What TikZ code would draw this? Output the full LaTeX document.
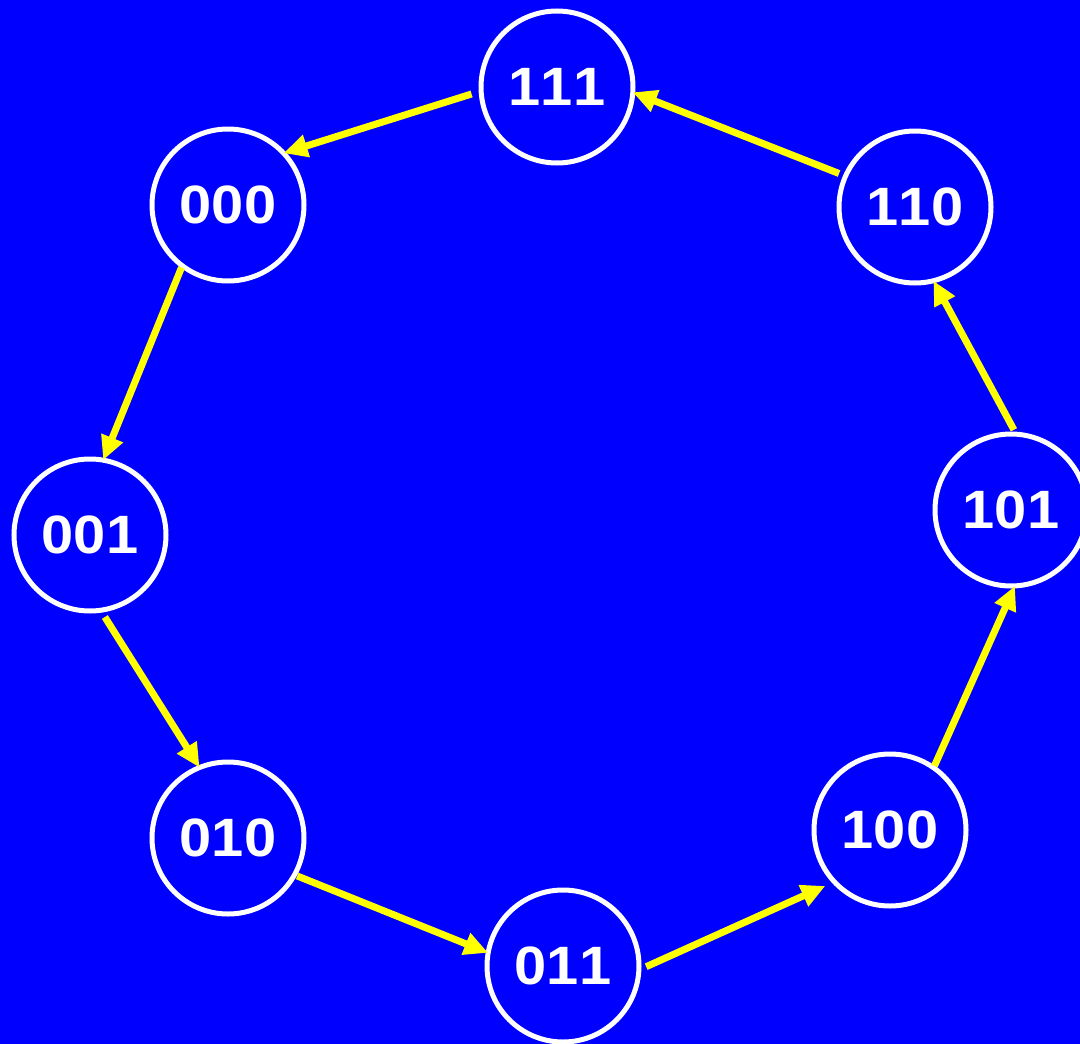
\documentclass[tikz,border=0pt]{standalone}
\usepackage{fontspec}
\setmainfont[Kerning=Off]{Liberation Sans}
\usetikzlibrary{arrows.meta}
\definecolor{bg}{RGB}{0,0,255}
\definecolor{arr}{RGB}{255,255,0}
\begin{document}
\begin{tikzpicture}[x=1pt,y=-1pt,
  state/.style={circle,draw=white,line width=5pt,fill=bg,minimum size=152pt,inner sep=0pt,outer sep=0pt,
    text=white,font=\fontsize{54}{54}\selectfont\bfseries},
  flow/.style={draw=arr,line width=7pt,-{Triangle[length=24pt,width=22pt]},shorten <=5pt,shorten >=0pt}]
\fill[bg] (0,0) rectangle (1080,1044);
\useasboundingbox (0,0) rectangle (1080,1044);
\newcommand{\lbl}[1]{\scalebox{1.07}[1]{#1}}
\node[state] (n111) at (557,87) {\lbl{111}};
\node[state] (n000) at (228,205) {\lbl{000}};
\node[state] (n001) at (90,535) {\lbl{001}};
\node[state] (n010) at (228,838) {\lbl{010}};
\node[state] (n011) at (563,966) {\lbl{011}};
\node[state] (n100) at (890,830) {\lbl{100}};
\node[state] (n101) at (1011,510) {\lbl{101}};
\node[state] (n110) at (915,207) {\lbl{110}};
\draw[flow,shorten <=10pt] (n111.183) -- (n000.43);
\draw[flow,shorten <=2pt] (n000.233) -- (n001.80);
\draw[flow,shorten <=8pt] (n001.278) -- (n010.112);
\draw[flow,shorten <=3pt] (n010.331) -- (n011.170);
\draw[flow,shorten <=8pt,shorten >=10pt] (n011.357) -- (n100.223);
\draw[flow,shorten <=2pt] (n100.55) -- (n101.273);
\draw[flow,shorten <=5pt] (n101.86) -- (n110.284);
\draw[flow,shorten <=7pt] (n110.156) -- (n111.356);
\end{tikzpicture}
\end{document}
